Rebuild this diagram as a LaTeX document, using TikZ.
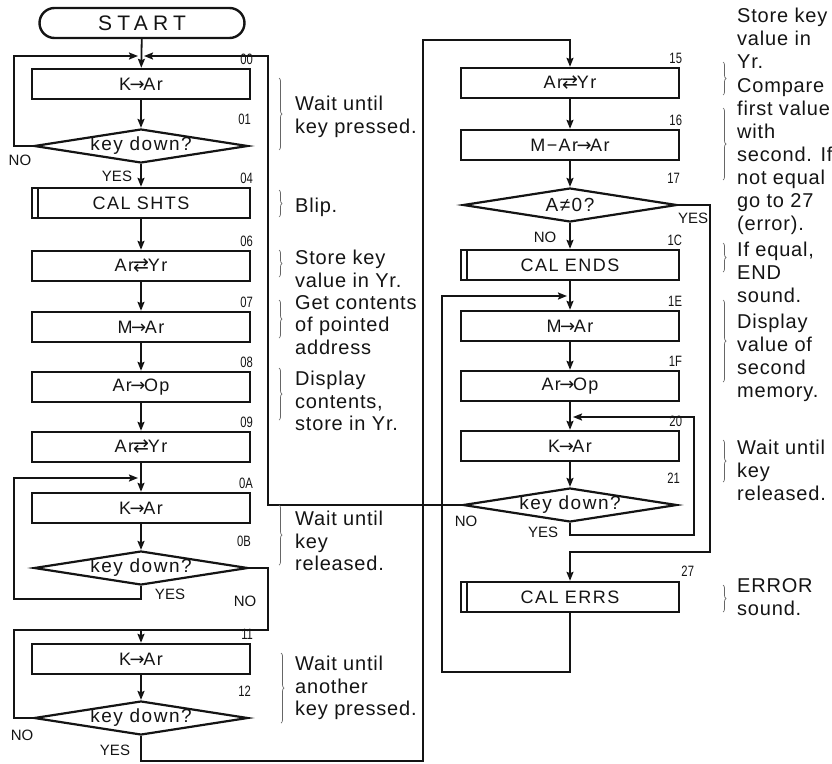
\documentclass[tikz,border=0pt]{standalone}
\usepackage{fontspec}
\setmainfont{Liberation Sans}
\newfontfamily\boxfont[LetterSpace=8]{Liberation Sans}
\newfontfamily\startfont[LetterSpace=25]{Liberation Sans}
\newfontfamily\notefont[LetterSpace=4]{Liberation Sans}
\newfontfamily\numfont[FakeStretch=0.75]{Liberation Sans}
\newfontfamily\arrowfont{DejaVu Sans}
\usetikzlibrary{arrows.meta, shapes.geometric, decorations.pathreplacing}
\definecolor{cInk}{HTML}{141414}
\definecolor{cNote}{HTML}{666666}
\newcommand{\swap}{\kern-1pt{\arrowfont\fontsize{19}{19}\selectfont ⇄}\kern-1pt}
\newcommand{\goes}{\kern-1.5pt{\arrowfont\fontsize{18}{18}\selectfont →}\kern-1.5pt}
\tikzset{
  proc/.style={rectangle, draw=cInk, line width=2.4pt, minimum width=218pt, minimum height=30pt,
               inner sep=0pt, text=cInk, font=\boxfont\fontsize{18}{20}\selectfont},
  sub/.style={proc, path picture={\draw[cInk, line width=1.2pt]
               ([xshift=6pt]path picture bounding box.north west) --
               ([xshift=6pt]path picture bounding box.south west);}},
  term/.style={proc, rounded corners=15pt, minimum width=205pt, font=\startfont\fontsize{21}{22}\selectfont},
  dec/.style={diamond, aspect=6.3, draw=cInk, line width=2.2pt, minimum width=214pt, minimum height=34pt,
              inner sep=0pt, text=cInk, font=\boxfont\fontsize{19}{20}\selectfont},
  addr/.style={anchor=south east, inner sep=0pt, text=cInk, font=\numfont\fontsize{15}{15}\selectfont},
  yn/.style={inner sep=0pt, text=cInk, font=\fontsize{15}{15}\selectfont},
  note/.style={anchor=north west, align=left, inner sep=0pt, text=cInk, font=\notefont\fontsize{20}{22.5}\selectfont},
  flow/.style={-{Stealth[length=9pt, width=7pt, inset=1.5pt]}, line width=1.8pt, draw=cInk},
  wire/.style={line width=1.8pt, draw=cInk},
  bkt/.style={decorate, decoration={brace, amplitude=3pt}, draw=cNote, line width=0.7pt},
}
\newcommand{\addr}[2]{\node[addr] (n#1) at ([xshift=2pt, yshift=3pt]#1.north -| #1.east) {#2};}

\begin{document}
\begin{tikzpicture}[x=1pt, y=-1pt]
  \useasboundingbox (0,0) rectangle (832,763);

  % ---- left column
  \node[term] (start) at (142,23)  {START};
  \node[proc] (k00)   at (141,84)  {K\goes Ar};
  \node[dec]  (d01)   at (141,146) {key down?};
  \node[sub]  (c04)   at (141,203) {CAL SHTS};
  \node[proc] (a06)   at (141,266) {Ar\swap Yr};
  \node[proc] (m07)   at (141,327) {M\goes Ar};
  \node[proc] (o08)   at (141,387) {Ar\goes Op};
  \node[proc] (a09)   at (141,447) {Ar\swap Yr};
  \node[proc] (k0A)   at (141,508) {K\goes Ar};
  \node[dec]  (d0B)   at (141,568) {key down?};
  \node[proc] (k11)   at (141,659) {K\goes Ar};
  \node[dec]  (d12)   at (141,718) {key down?};

  % ---- right column
  \node[proc] (a15) at (570,83)  {Ar\swap Yr};
  \node[proc] (s16) at (570,145) {M−Ar\goes Ar};
  \node[dec]  (d17) at (570,205) {A≠0?};
  \node[sub]  (c1C) at (570,265) {CAL ENDS};
  \node[proc] (m1E) at (570,326) {M\goes Ar};
  \node[proc] (o1F) at (570,386) {Ar\goes Op};
  \node[proc] (k20) at (570,446) {K\goes Ar};
  \node[dec]  (d21) at (570,505) {key down?};
  \node[sub]  (c27) at (570,597) {CAL ERRS};

  % ---- addresses
  \addr{k00}{00}\addr{d01}{01}\addr{c04}{04}\addr{a06}{06}\addr{m07}{07}\addr{o08}{08}
  \addr{a09}{09}\addr{k0A}{0A}\addr{d0B}{0B}\addr{k11}{11}\addr{d12}{12}
  \addr{a15}{15}\addr{s16}{16}\addr{d17}{17}\addr{c1C}{1C}\addr{m1E}{1E}\addr{o1F}{1F}
  \addr{k20}{20}\addr{d21}{21}
  \node[addr] (nc27) at ([xshift=14pt, yshift=4pt]c27.north east) {27};

  % ---- rails and joints
  \coordinate (railL) at (14,0);
  \coordinate (railM) at (268,0);
  \coordinate (railB) at (423,0);
  \coordinate (railE) at (442,0);
  \coordinate (railK) at (694,0);
  \coordinate (railY) at (710,0);
  \coordinate (j00)  at (141,56);
  \coordinate (j0A)  at (141,478);
  \coordinate (j11)  at (141,630);
  \coordinate (y0B)  at (141,599);
  \coordinate (yBot) at (141,761);
  \coordinate (jTop) at (570,40);
  \coordinate (j1E)  at (570,296);
  \coordinate (j20)  at (570,417);
  \coordinate (y21)  at (570,535);
  \coordinate (j27)  at (570,552);
  \coordinate (yEnd) at (570,672);

  % ---- main path
  \draw[flow] (start) -- (k00);
  \draw[flow] (k00) -- (d01);
  \draw[flow] (d01) -- (c04);
  \draw[flow] (c04) -- (a06);
  \draw[flow] (a06) -- (m07);
  \draw[flow] (m07) -- (o08);
  \draw[flow] (o08) -- (a09);
  \draw[flow] (a09) -- (k0A);
  \draw[flow] (k0A) -- (d0B);
  \draw[flow] (j11) -- (k11);
  \draw[flow] (k11) -- (d12);
  \draw[flow] (a15) -- (s16);
  \draw[flow] (s16) -- (d17);
  \draw[flow] (d17) -- (c1C);
  \draw[flow] (c1C) -- (m1E);
  \draw[flow] (m1E) -- (o1F);
  \draw[flow] (o1F) -- (k20);
  \draw[flow] (k20) -- (d21);

  % ---- loops
  \draw[flow] (d01.west) -- (d01.west -| railL) |- ([xshift=-3pt]j00);
  \draw[flow] (d21.west) -- (d21.west -| railM) |- ([xshift=3pt]j00);
  \draw[flow] (d0B.south) -- (y0B) -- (y0B -| railL) |- ([xshift=-3pt]j0A);
  \draw[wire] (d0B.east) -| (j11 -| railM) -- (j11);
  \draw[wire] (d12.west) -| (j11 -| railL) -- (j11);
  \draw[flow] (d12.south) -- (yBot) -- (yBot -| railB) |- (jTop) -- (a15);
  \draw[flow] (d17.east) -| (j27 -| railY) -- (j27) -- (c27);
  \draw[flow] (d21.south) -- (y21) -- (y21 -| railK) |- ([xshift=3pt]j20);
  \draw[flow] (c27.south) -- (yEnd) -- (yEnd -| railE) |- ([xshift=-3pt]j1E);

  % ---- yes / no
  \node[yn] (no01)  at (20,160)  {NO};
  \node[yn] (yes01) at (117,176) {YES};
  \node[yn] (yes0B) at (170,594) {YES};
  \node[yn] (no0B)  at (245,601) {NO};
  \node[yn] (no12)  at (22,735)  {NO};
  \node[yn] (yes12) at (115,750) {YES};
  \node[yn] (no17)  at (545,237) {NO};
  \node[yn] (yes17) at (693,218) {YES};
  \node[yn] (no21)  at (466,521) {NO};
  \node[yn] (yes21) at (543,532) {YES};

  % ---- notes, left
  \node[note] (t00) at (295,96)  {Wait until\\key pressed.};
  \node[note] (t04) at (295,198) {Blip.};
  \node[note] (t06) at (295,250) {Store key\\value in Yr.};
  \node[note] (t07) at (295,295) {Get contents\\of pointed\\address};
  \node[note] (t08) at (295,371) {Display\\contents,\\store in Yr.};
  \node[note] (t0A) at (295,511) {Wait until\\key\\released.};
  \node[note] (t11) at (295,656) {Wait until\\another\\key pressed.};
  \draw[bkt] (279,78)  -- (279,150);
  \draw[bkt] (279,190) -- (279,217);
  \draw[bkt] (279,250) -- (279,277);
  \draw[bkt] (279,300) -- (279,338);
  \draw[bkt] (279,368) -- (279,420);
  \draw[bkt] (279,505) -- (279,565);
  \draw[bkt] (281,653) -- (281,723);

  % ---- notes, right
  \begin{scope}[every node/.style={note, font=\notefont\fontsize{20}{23}\selectfont}]
    \node (t15) at (737,8)   {Store key\\value in\\Yr.};
    \node (t16) at (737,78)  {Compare\\first value\\with\\second. If\\not equal\\go to 27\\(error).};
    \node (t1C) at (737,242) {If equal,\\END\\sound.};
    \node (t1E) at (737,314) {Display\\value of\\second\\memory.};
    \node (t20) at (737,440) {Wait until\\key\\released.};
    \node (t27) at (737,578) {ERROR\\sound.};
  \end{scope}
  \draw[bkt] (723,62)  -- (723,95);
  \draw[bkt] (723,108) -- (723,180);
  \draw[bkt] (723,243) -- (723,272);
  \draw[bkt] (723,300) -- (723,382);
  \draw[bkt] (723,440) -- (723,482);
  \draw[bkt] (723,585) -- (723,612);
\end{tikzpicture}
\end{document}
